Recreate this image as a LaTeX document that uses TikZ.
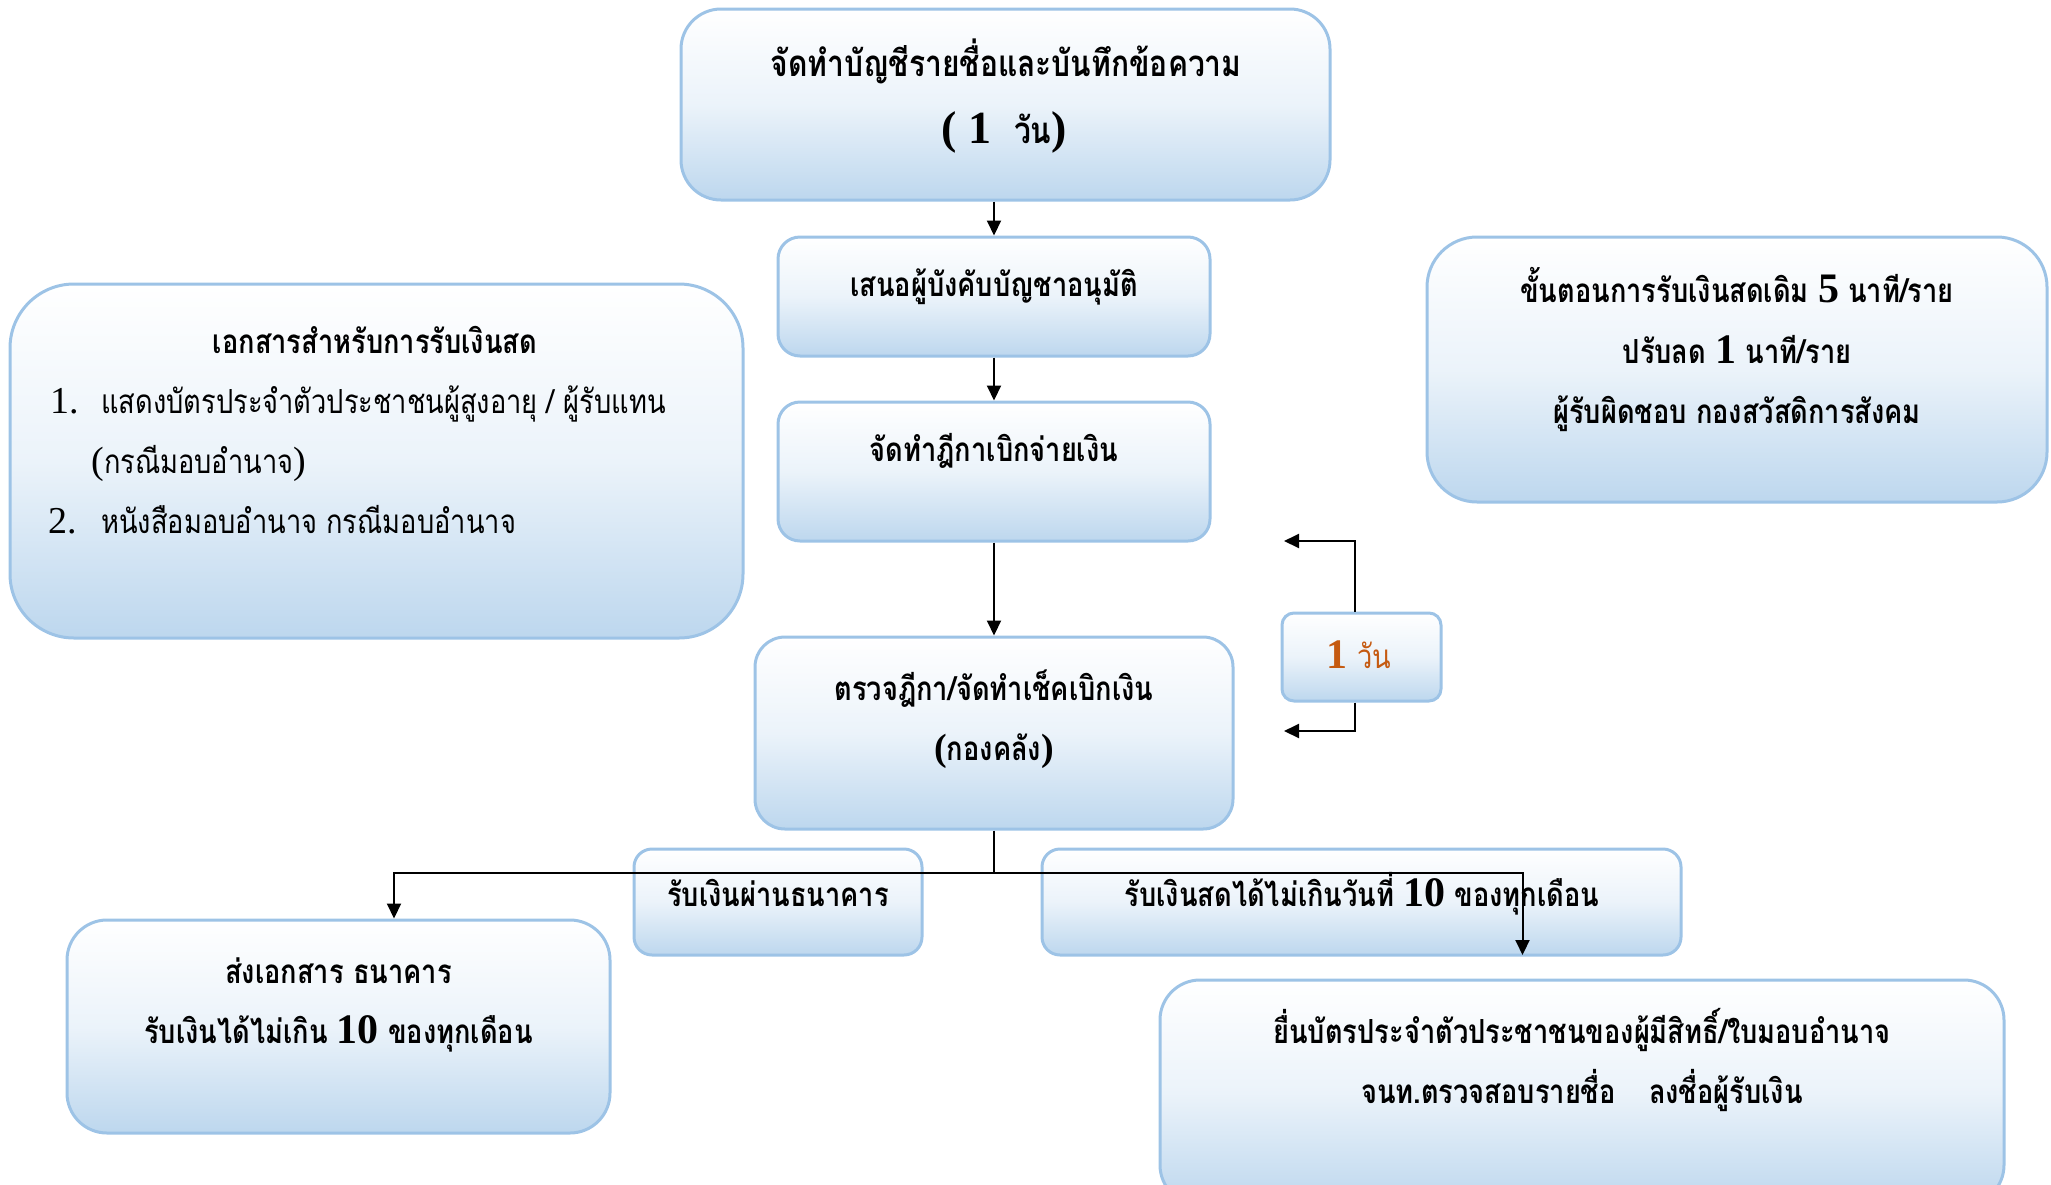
\documentclass[tikz,border=0pt]{standalone}
\usepackage{fontspec}
\newfontfamily\thai[Script=Thai,FakeStretch=0.82]{Loma}
\newfontfamily\tms{Liberation Serif}
\usetikzlibrary{arrows.meta}
\definecolor{bcol}{HTML}{9DC3E6}
\definecolor{fcol}{HTML}{BDD7EE}
\definecolor{ocol}{HTML}{C55A11}
\newcommand{\nb}[2]{{\tms\bfseries\fontsize{#1}{#1}\selectfont #2}}
\newcommand{\nr}[2]{{\tms\fontsize{#1}{#1}\selectfont #2}}
\tikzset{
 bx/.style={draw=bcol, line width=1.5pt, top color=white, bottom color=fcol, middle color=fcol!30, rounded corners=#1, inner sep=0pt},
 bx/.default=10pt,
 tb/.style={anchor=base, inner sep=0pt, font=\thai\bfseries\fontsize{16.6}{18}\selectfont},
 tr/.style={anchor=base west, inner sep=0pt, font=\thai\fontsize{16.6}{18}\selectfont},
 arr/.style={line width=1pt, -{Triangle[length=7.5pt,width=7pt]}},
 ln/.style={line width=1pt},
}
\begin{document}
\begin{tikzpicture}[x=0.5pt,y=-0.5pt]
\useasboundingbox (0,0) rectangle (2051,1184);
\clip (0,0) rectangle (2051,1184);
% boxes
\node[bx=20pt, minimum width=324.5pt, minimum height=95.5pt] (top) at (1005.5,104.5) {};
\node[bx=11pt, minimum width=216pt, minimum height=59.5pt] (b2) at (994,296.5) {};
\node[bx=11pt, minimum width=216pt, minimum height=69.5pt] (b3) at (994,471.5) {};
\node[bx=15pt, minimum width=239pt, minimum height=96pt] (b4) at (994,733) {};
\node[bx=32pt, minimum width=366.5pt, minimum height=177pt] (doc) at (376.5,461) {};
\node[bx=25pt, minimum width=310pt, minimum height=132.5pt] (info) at (1737,369.5) {};
\node[bx=6pt, minimum width=79.5pt, minimum height=44pt] (od) at (1361.5,657) {};
\node[bx=9pt, minimum width=144pt, minimum height=53pt] (bank) at (778,902) {};
\node[bx=9pt, minimum width=319.5pt, minimum height=53pt] (cash) at (1361.5,902) {};
\node[bx=20pt, minimum width=271.5pt, minimum height=106.5pt] (send) at (338.5,1026.5) {};
\node[bx=20pt, minimum width=422pt, minimum height=112.5pt] (apply) at (1582,1092.5) {};
% texts
\node[tb, font=\thai\bfseries\fontsize{18.3}{20}\selectfont] (topa) at (1006,76) {จัดทำบัญชีรายชื่อและบันทึกข้อความ};
\node[tb, font=\thai\bfseries\fontsize{18.3}{20}\selectfont] (topb) at (1004,143) {\nb{23}{(\ 1\ \ }วัน\nb{23}{)}};
\node[tb] (b2t) at (994,296) {เสนอผู้บังคับบัญชาอนุมัติ};
\node[tb] (b3t) at (994,461) {จัดทำฎีกาเบิกจ่ายเงิน};
\node[tb] (b4a) at (994,700) {ตรวจฎีกา/จัดทำเช็คเบิกเงิน};
\node[tb] (b4b) at (994,760) {\nr{19}{(}กองคลัง\nr{19}{)}};
\node[tb, text=ocol] (odt) at (1359,668) {\nb{21}{1} {\mdseries วัน}};
\node[tb] (infa) at (1737,302) {ขั้นตอนการรับเงินสดเดิม \nb{21}{5} นาที/ราย};
\node[tb] (infb) at (1737,363) {ปรับลด \nb{21}{1} นาที/ราย};
\node[tb] (infc) at (1737,423) {ผู้รับผิดชอบ กองสวัสดิการสังคม};
\node[tb] (doct) at (375,353) {เอกสารสำหรับการรับเงินสด};
\node[tr] (n1) at (50,413) {\nr{19}{1.}};
\node[tr] (d1) at (101,413) {แสดงบัตรประจำตัวประชาชนผู้สูงอายุ / ผู้รับแทน};
\node[tr] (d1b) at (91,473) {\nr{19}{(}กรณีมอบอำนาจ\nr{19}{)}};
\node[tr] (n2) at (48,533) {\nr{19}{2.}};
\node[tr] (d2) at (101,533) {หนังสือมอบอำนาจ กรณีมอบอำนาจ};
\node[tb] (bankt) at (778,906) {รับเงินผ่านธนาคาร};
\node[tb] (casht) at (1362,906) {รับเงินสดได้ไม่เกินวันที่ \nb{21}{10} ของทุกเดือน};
\node[tb] (senda) at (338.5,983) {ส่งเอกสาร ธนาคาร};
\node[tb] (sendb) at (338.5,1043) {รับเงินได้ไม่เกิน \nb{21}{10} ของทุกเดือน};
\node[tb] (appa) at (1582,1043) {ยื่นบัตรประจำตัวประชาชนของผู้มีสิทธิ์/ใบมอบอำนาจ};
\node[tb] (appb) at (1582,1103) {จนท.ตรวจสอบรายชื่อ\quad ลงชื่อผู้รับเงิน};
% connectors
\draw[arr] (top.south -| b2.north) -- (b2.north);
\draw[arr] (b2.south) -- (b3.north);
\draw[arr] (b3.south) -- (b4.north);
\coordinate (br) at (994,872.5);
\coordinate (lx) at (394,872.5);
\coordinate (rx) at (1522.5,872.5);
\coordinate (cashEnd) at (1522.5,955);
\draw[ln] (b4.south) -- (br);
\draw[arr] (br) -- (lx) -- (lx |- send.north);
\draw[arr] (br) -- (rx) -- (cashEnd);
\coordinate (vx) at (1355,0);
\coordinate (odA) at (1284,541);
\coordinate (odB) at (1284,731);
\draw[arr] (od.north -| vx) |- (odA);
\draw[arr] (od.south -| vx) |- (odB);
\end{tikzpicture}
\end{document}
